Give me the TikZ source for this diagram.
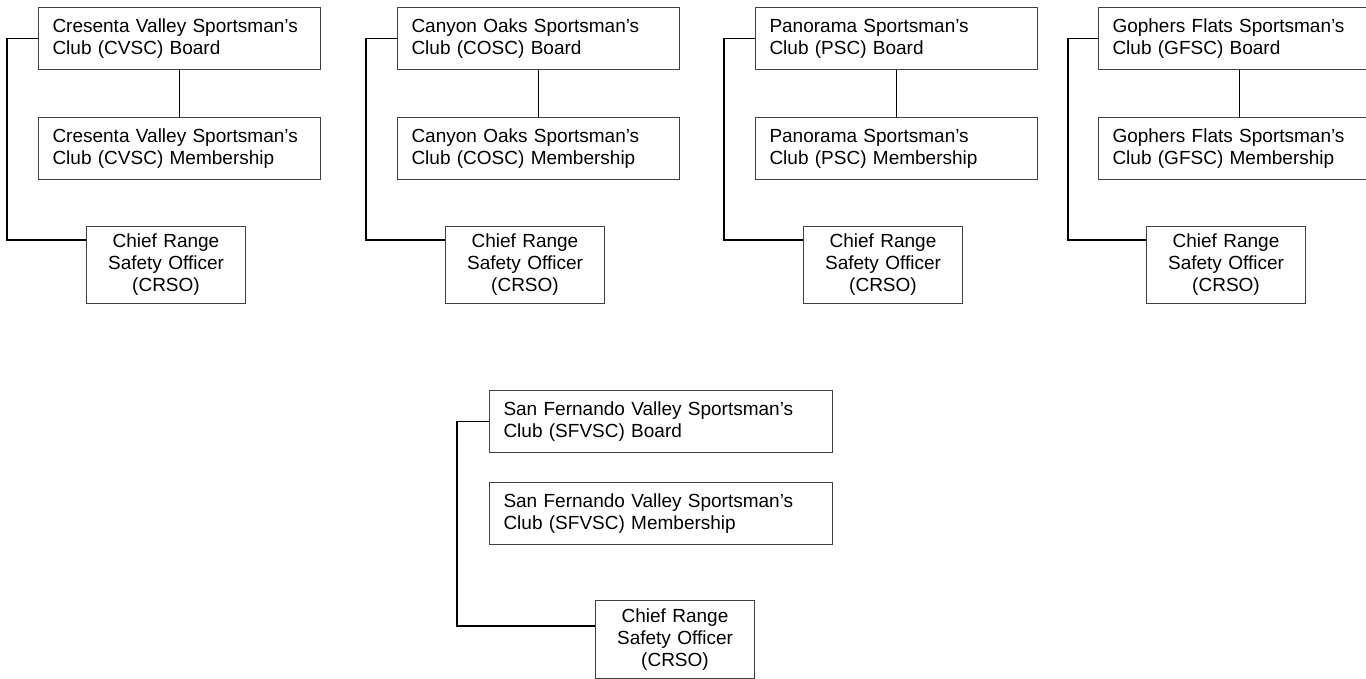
\documentclass[tikz,border=0pt]{standalone}
\usepackage{fontspec}
\setmainfont{Liberation Sans}
\begin{document}
\begin{tikzpicture}[x=1pt,y=-1pt,
  box/.style={draw=black!75, line width=1pt, inner sep=0pt, fill=white, font=\fontsize{19}{22}\selectfont},
  wide/.style={box, anchor=north west, minimum width=282pt, minimum height=62pt, text width=254pt, align=left, inner xsep=14pt},
  widebot/.style={box, anchor=north west, minimum width=343pt, minimum height=62pt, text width=315pt, align=left, inner xsep=14pt},
  crso/.style={box, anchor=north west, minimum width=159pt, minimum height=77pt, text width=151pt, align=center, inner xsep=4pt},
  link/.style={line width=1.6pt, black}]
\fill[white] (0,0) rectangle (1366,679);
\useasboundingbox (0,0) rectangle (1366,679);

% Group 1
\node[wide] (b1) at (38,7) {Cresenta Valley Sportsman’s\\Club (CVSC) Board};
\node[wide] (m1) at (38,117) {Cresenta Valley Sportsman’s\\Club (CVSC) Membership};
\node[crso] (c1) at (86,226) {Chief Range\\Safety Officer\\(CRSO)};
\draw[link] (b1.west) -- ++(-31,0) |- ([yshift=-14pt]c1.north west);
\draw[link] (b1.south) -- (m1.north);

% Group 2
\node[wide] (b2) at (397,7) {Canyon Oaks Sportsman’s\\Club (COSC) Board};
\node[wide] (m2) at (397,117) {Canyon Oaks Sportsman’s\\Club (COSC) Membership};
\node[crso] (c2) at (445,226) {Chief Range\\Safety Officer\\(CRSO)};
\draw[link] (b2.west) -- ++(-31,0) |- ([yshift=-14pt]c2.north west);
\draw[link] (b2.south) -- (m2.north);

% Group 3
\node[wide] (b3) at (755,7) {Panorama Sportsman’s\\Club (PSC) Board};
\node[wide] (m3) at (755,117) {Panorama Sportsman’s\\Club (PSC) Membership};
\node[crso] (c3) at (803,226) {Chief Range\\Safety Officer\\(CRSO)};
\draw[link] (b3.west) -- ++(-31,0) |- ([yshift=-14pt]c3.north west);
\draw[link] (b3.south) -- (m3.north);

% Group 4
\node[wide] (b4) at (1098,7) {Gophers Flats Sportsman’s\\Club (GFSC) Board};
\node[wide] (m4) at (1098,117) {Gophers Flats Sportsman’s\\Club (GFSC) Membership};
\node[crso] (c4) at (1146,226) {Chief Range\\Safety Officer\\(CRSO)};
\draw[link] (b4.west) -- ++(-30,0) |- ([yshift=-14pt]c4.north west);
\draw[link] (b4.south) -- (m4.north);

% Bottom group
\node[widebot] (b5) at (489,390) {San Fernando Valley Sportsman’s\\Club (SFVSC) Board};
\node[widebot] (m5) at (489,482) {San Fernando Valley Sportsman’s\\Club (SFVSC) Membership};
\node[crso, minimum height=78pt] (c5) at (595,600) {Chief Range\\Safety Officer\\(CRSO)};
\draw[link] (b5.west) -- ++(-32,0) |- ([yshift=-26pt]c5.north west);
\end{tikzpicture}
\end{document}
